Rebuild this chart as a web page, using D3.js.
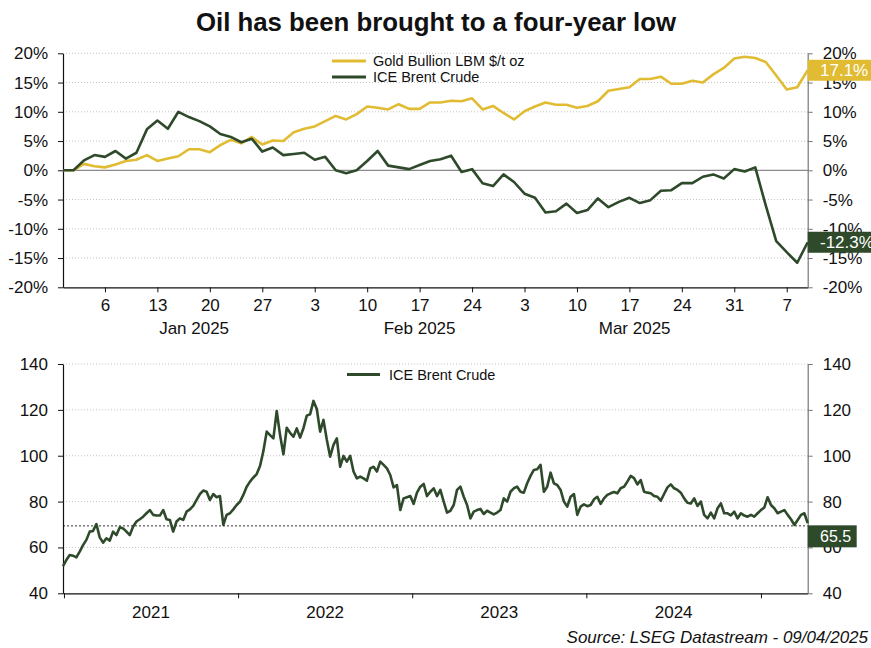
<!DOCTYPE html>
<html>
<head>
<meta charset="utf-8" />
<title>Oil has been brought to a four-year low</title>
<script src="https://d3js.org/d3.v7.min.js"></script>
<style>
body { margin:0; background:#fff; }
text { font-family:"Liberation Sans", Arial, sans-serif; fill:#111; }
.grid line { stroke:#c4c4c4; stroke-dasharray:1,2; }
</style>
</head>
<body>
<div id="chart"></div>
<script>

// ---- top panel: % change since 31 Dec 2024, one value per business day ----
var top_start = "2024-12-31"
var top_end = "2025-04-09"

var gold_pct = [0, 0, 1.1, 0.7, 0.5, 1.0, 1.6, 1.8, 2.6, 1.6,
	2.0, 2.4, 3.6, 3.6, 3.1, 4.3, 5.2, 4.6, 5.7, 4.4,
	5.1, 5.0, 6.5, 7.1, 7.5, 8.4, 9.3, 8.7, 9.6, 10.9,
	10.7, 10.4, 11.3, 10.5, 10.5, 11.6, 11.6, 11.9, 11.8, 12.3,
	10.4, 11.0, 9.8, 8.7, 10.1, 10.9, 11.6, 11.2, 11.2, 10.7,
	11.0, 11.8, 13.6, 13.9, 14.2, 15.6, 15.6, 16.0, 14.8, 14.8,
	15.3, 15.0, 16.4, 17.5, 19.1, 19.4, 19.2, 18.5, 16.2, 13.8,
	14.2, 17.1]

var brent_pct = [0, 0, 1.7, 2.6, 2.3, 3.3, 2.0, 3.0, 7.0, 8.5,
	7.1, 10.0, 9.1, 8.4, 7.5, 6.2, 5.7, 4.8, 5.4, 3.2,
	3.9, 2.6, 2.8, 3.0, 1.8, 2.3, 0.0, -0.5, 0.0, 1.6,
	3.3, 0.8, 0.5, 0.2, 0.9, 1.6, 1.9, 2.5, -0.3, 0.2,
	-2.2, -2.7, -0.7, -2.0, -4.0, -4.7, -7.2, -7.0, -5.7, -7.3,
	-6.8, -4.8, -6.3, -5.4, -4.7, -5.6, -5.1, -3.5, -3.4, -2.2,
	-2.2, -1.1, -0.7, -1.4, 0.2, -0.2, 0.5, -6.0, -12.1, -14.0,
	-15.8, -12.3]

var gold_last = 17.1
var brent_last_pct = -12.3
var pct_ticks = [-20, -15, -10, -5, 0, 5, 10, 15, 20]
var top_names = ["Gold Bullion LBM $/t oz", "ICE Brent Crude"]

// ---- bottom panel: ICE Brent, weekly (Wednesdays), $/bbl ----
var weekly_start = "2020-12-30"

var brent_weekly = [51.9, 54.5, 56.7, 56.4, 55.7, 58.2, 61.0, 63.3, 66.9, 67.2,
	70.2, 64.4, 62.1, 64.0, 63.0, 66.9, 65.4, 68.8, 68.3, 66.9,
	65.4, 69.1, 71.3, 72.3, 73.4, 74.9, 76.3, 74.2, 73.9, 73.9,
	76.3, 72.3, 72.0, 66.9, 71.3, 72.7, 72.0, 75.6, 76.6, 78.1,
	80.7, 83.3, 84.8, 84.3, 80.7, 83.3, 81.9, 82.4, 69.8, 74.2,
	74.9, 76.6, 78.5, 80.0, 82.9, 86.5, 88.7, 90.5, 92.0, 95.5,
	102.0, 110.5, 109.0, 107.6, 119.5, 109.0, 100.6, 112.2, 110.0, 108.3,
	111.9, 107.9, 112.0, 117.5, 118.1, 123.9, 120.4, 110.5, 115.6, 107.0,
	99.6, 104.7, 107.6, 95.2, 99.9, 97.4, 99.9, 93.1, 90.1, 90.9,
	90.1, 89.1, 94.5, 95.2, 93.1, 97.4, 96.0, 94.5, 91.6, 86.2,
	87.2, 76.3, 81.4, 81.9, 82.4, 79.0, 83.9, 86.5, 87.7, 82.4,
	84.3, 85.8, 82.4, 85.1, 80.0, 75.2, 76.0, 78.5, 85.1, 86.5,
	82.1, 78.5, 72.7, 75.6, 76.3, 76.8, 74.6, 76.0, 75.2, 74.4,
	75.2, 76.3, 81.4, 80.0, 84.3, 85.8, 86.5, 84.3, 83.9, 88.0,
	91.2, 93.8, 94.1, 96.0, 84.3, 86.5, 92.6, 88.0, 87.2, 85.1,
	80.0, 77.8, 82.1, 83.3, 74.2, 77.8, 78.8, 78.0, 78.5, 81.0,
	82.1, 79.0, 81.4, 82.9, 83.6, 84.2, 83.6, 85.8, 86.5, 88.7,
	91.2, 90.2, 87.5, 89.4, 84.3, 83.9, 83.6, 82.4, 82.1, 80.4,
	83.3, 86.2, 87.5, 85.8, 85.1, 83.9, 81.4, 79.5, 79.2, 81.4,
	78.1, 80.0, 74.2, 72.7, 75.2, 72.7, 77.1, 79.2, 74.9, 74.9,
	74.0, 75.6, 72.7, 74.9, 73.9, 73.4, 74.2, 73.4, 74.9, 76.3,
	77.4, 81.9, 78.5, 77.1, 74.9, 75.6, 76.3, 74.2, 72.3, 69.8,
	72.0, 74.2, 74.9, 70.6]

var brent_last = 65.5
var brent_ref = 69.4
var price_ticks = [40, 60, 80, 100, 120, 140]
var bottom_name = "ICE Brent Crude"

var gold_col = "#e1bc33"
var green_col = "#2e4a2b"

var W = 871, H = 648
var plot = {left:63, right:807.7}

var svg = d3.select("#chart").append("svg")
	.attr("width", W)
	.attr("height", H)

svg.append("rect").attr("width", W).attr("height", H).attr("fill", "#fff")

svg.append("text")
	.text("Oil has been brought to a four-year low")
	.attr("x", 436)
	.attr("y", 31)
	.attr("text-anchor", "middle")
	.attr("font-size", 25.8)
	.attr("font-weight", 700)

// ================= top panel =================
var parse = d3.utcParse("%Y-%m-%d")
var bdays = d3.utcDay.range(parse(top_start), d3.utcDay.offset(parse(top_end), 1))
	.filter(function(d) { return d.getUTCDay() != 0 && d.getUTCDay() != 6 })

var xTop = d3.scalePoint()
	.domain(d3.range(bdays.length))
	.range([plot.left, plot.right])

var yTop = d3.scaleLinear()
	.domain([-20, 20])
	.range([287.3, 53.3])

// gridlines
svg.append("g").attr("class", "grid")
	.selectAll("line")
	.data(pct_ticks.filter(function(d) { return d != -20 && d != 0 }))
	.join("line")
	.attr("x1", plot.left).attr("x2", plot.right)
	.attr("y1", yTop).attr("y2", yTop)

svg.append("line")
	.attr("x1", plot.left).attr("x2", plot.right)
	.attr("y1", yTop(0)).attr("y2", yTop(0))
	.attr("stroke", "#8a8a8a")
	.attr("stroke-width", 1.3)

var mondays = d3.range(bdays.length).filter(function(i) { return bdays[i].getUTCDay() == 1 })

var xAxisTop = svg.append("g")
	.attr("transform", "translate(0," + yTop(-20) + ")")
	.call(d3.axisBottom(xTop).tickValues(mondays).tickSize(5).tickSizeOuter(0).tickPadding(7)
		.tickFormat(function(i) { return bdays[i].getUTCDate() }))

// month labels under the week ticks
var months = d3.groups(d3.range(bdays.length).filter(function(i) { return i > 0 }),
	function(i) { return bdays[i].getUTCMonth() })
var fmtMonth = d3.utcFormat("%b %Y")
svg.append("g").selectAll("text")
	.data(months.filter(function(m) { return m[1].length > 10 }))
	.join("text")
	.text(function(m) { return fmtMonth(bdays[m[1][0]]) })
	.attr("x", function(m) { return (xTop(m[1][0]) + xTop(m[1][m[1].length - 1])) / 2 + xTop.step() / 2 })
	.attr("y", 334)
	.attr("text-anchor", "middle")
	.attr("font-size", 17)

var yAxisTopL = svg.append("g")
	.attr("transform", "translate(" + plot.left + ",0)")
	.call(d3.axisLeft(yTop).tickValues(pct_ticks).tickSize(5).tickSizeOuter(0).tickPadding(10)
		.tickFormat(function(d) { return d + "%" }))

var yAxisTopR = svg.append("g")
	.attr("transform", "translate(" + plot.right + ",0)")
	.call(d3.axisRight(yTop).tickValues(pct_ticks).tickSize(5).tickSizeOuter(0).tickPadding(10)
		.tickFormat(function(d) { return d + "%" }))

var topLine = d3.line()
	.x(function(d, i) { return xTop(i) })
	.y(function(d) { return yTop(d) })

svg.append("path")
	.datum(gold_pct)
	.attr("d", topLine)
	.attr("fill", "none")
	.attr("stroke", gold_col)
	.attr("stroke-width", 2.6)
	.attr("stroke-linejoin", "round")

svg.append("path")
	.datum(brent_pct)
	.attr("d", topLine)
	.attr("fill", "none")
	.attr("stroke", green_col)
	.attr("stroke-width", 2.6)
	.attr("stroke-linejoin", "round")

// legend
var legTop = svg.append("g")
legTop.selectAll("line")
	.data(top_names)
	.join("line")
	.attr("x1", 332).attr("x2", 366)
	.attr("y1", function(d, i) { return 61 + i * 16 })
	.attr("y2", function(d, i) { return 61 + i * 16 })
	.attr("stroke", function(d, i) { return i == 0 ? gold_col : green_col })
	.attr("stroke-width", 2.8)
legTop.selectAll("text")
	.data(top_names)
	.join("text")
	.text(function(d) { return d })
	.attr("x", 373)
	.attr("y", function(d, i) { return 66 + i * 16 })
	.attr("font-size", 14.5)

// last value boxes
function valueBox(yv, txt, col, w) {
	svg.append("rect")
		.attr("x", plot.right)
		.attr("y", yv - 10.5)
		.attr("width", w)
		.attr("height", 21)
		.attr("fill", col)
	svg.append("text")
		.text(txt)
		.attr("x", 820)
		.attr("y", yv + 6)
		.attr("font-size", 17)
		.style("fill", "#fff")
}
valueBox(yTop(gold_last), gold_last.toFixed(1) + "%", gold_col, W - plot.right)
valueBox(yTop(brent_last_pct), brent_last_pct.toFixed(1) + "%", green_col, W - plot.right)

// ================= bottom panel =================
var wk0 = parse(weekly_start)
var wdates = brent_weekly.map(function(v, k) { return d3.utcWeek.offset(wk0, k) })

var xBot = d3.scaleUtc()
	.domain([wdates[0], wdates[wdates.length - 1]])
	.range([plot.left, plot.right])

var yBot = d3.scaleLinear()
	.domain([40, 140])
	.range([593.3, 364])

svg.append("g").attr("class", "grid")
	.selectAll("line")
	.data(price_ticks.filter(function(d) { return d != 40 }))
	.join("line")
	.attr("x1", plot.left).attr("x2", plot.right)
	.attr("y1", yBot).attr("y2", yBot)

svg.append("line")
	.attr("x1", plot.left).attr("x2", plot.right)
	.attr("y1", yBot(brent_ref)).attr("y2", yBot(brent_ref))
	.attr("stroke", "#333")
	.attr("stroke-dasharray", "2,2")
	.attr("stroke-width", 1)

var years = d3.utcYear.range(d3.utcYear.ceil(wdates[0]), wdates[wdates.length - 1])

var xAxisBot = svg.append("g")
	.attr("transform", "translate(0," + yBot(40) + ")")
	.call(d3.axisBottom(xBot).tickValues(years).tickSize(5).tickSizeOuter(0).tickFormat(""))

svg.append("g").selectAll("text")
	.data(years.slice(0, -1))
	.join("text")
	.text(function(d) { return d.getUTCFullYear() })
	.attr("x", function(d) { return (xBot(d) + xBot(d3.utcYear.offset(d, 1))) / 2 })
	.attr("y", 618.3)
	.attr("text-anchor", "middle")
	.attr("font-size", 17)

var yAxisBotL = svg.append("g")
	.attr("transform", "translate(" + plot.left + ",0)")
	.call(d3.axisLeft(yBot).tickValues(price_ticks).tickSize(5).tickSizeOuter(0).tickPadding(10))

var yAxisBotR = svg.append("g")
	.attr("transform", "translate(" + plot.right + ",0)")
	.call(d3.axisRight(yBot).tickValues(price_ticks).tickSize(5).tickSizeOuter(0).tickPadding(10))

svg.append("path")
	.datum(brent_weekly)
	.attr("d", d3.line()
		.x(function(d, k) { return xBot(wdates[k]) })
		.y(function(d) { return yBot(d) }))
	.attr("fill", "none")
	.attr("stroke", green_col)
	.attr("stroke-width", 2.6)
	.attr("stroke-linejoin", "round")

svg.append("line")
	.attr("x1", 347).attr("x2", 380)
	.attr("y1", 374.5).attr("y2", 374.5)
	.attr("stroke", green_col)
	.attr("stroke-width", 2.8)
svg.append("text")
	.text(bottom_name)
	.attr("x", 389)
	.attr("y", 379.5)
	.attr("font-size", 14.5)

svg.append("rect")
	.attr("x", plot.right)
	.attr("y", yBot(brent_last) - 9.5)
	.attr("width", 49)
	.attr("height", 22)
	.attr("fill", green_col)
svg.append("text")
	.text(brent_last.toFixed(1))
	.attr("x", 820)
	.attr("y", yBot(brent_last) + 7.5)
	.attr("font-size", 16)
	.style("fill", "#fff")

// axis styling
svg.selectAll(".tick text").attr("font-size", 17).style("fill", "#111")
	.attr("font-family", "Liberation Sans, Arial, sans-serif")
;[xAxisTop, yAxisTopL, xAxisBot, yAxisBotL].forEach(function(a) {
	a.select(".domain").attr("stroke", "#111").attr("stroke-width", 1.2)
	a.selectAll(".tick line").attr("stroke", "#111")
})
;[yAxisTopR, yAxisBotR].forEach(function(a) {
	a.select(".domain").attr("stroke", "#777").attr("stroke-width", 1.2)
	a.selectAll(".tick line").attr("stroke", "#777")
})

svg.append("text")
	.text("Source: LSEG Datastream - 09/04/2025")
	.attr("x", 868)
	.attr("y", 643.3)
	.attr("text-anchor", "end")
	.attr("font-size", 17)
	.attr("font-style", "italic")

</script>
</body>
</html>
